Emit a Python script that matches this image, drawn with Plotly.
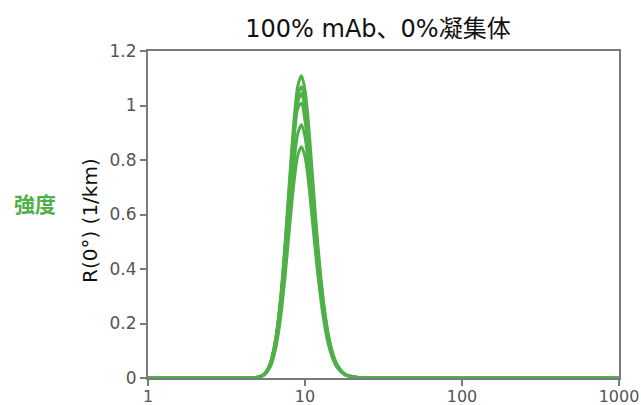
import plotly.graph_objects as go

# Data (x: size on log axis, y: R(0°) in 1/km)
x_vals = [1, 2, 3, 4, 4.5, 5, 5.5, 6, 6.5, 7, 7.5, 8, 8.5, 9, 9.5, 10, 10.5, 11,
          12, 13, 14, 15, 16, 18, 20, 25, 40, 100, 1000]

curve_a = [0, 0, 0, 0, 0, 0.003, 0.014, 0.053, 0.143, 0.296, 0.508, 0.740, 0.941, 1.072, 1.109, 1.057, 0.941, 0.790,
           0.507, 0.300, 0.168, 0.092, 0.050, 0.014, 0.006, 0, 0, 0, 0]
curve_b = [0, 0, 0, 0, 0, 0.003, 0.014, 0.051, 0.140, 0.290, 0.496, 0.720, 0.912, 1.040, 1.069, 1.012, 0.900, 0.755,
           0.485, 0.287, 0.161, 0.088, 0.048, 0.014, 0.005, 0, 0, 0, 0]
curve_c = [0, 0, 0, 0, 0, 0.003, 0.014, 0.051, 0.138, 0.284, 0.486, 0.705, 0.893, 1.015, 1.044, 0.990, 0.880, 0.738,
           0.474, 0.280, 0.157, 0.086, 0.047, 0.014, 0.005, 0, 0, 0, 0]
curve_d = [0, 0, 0, 0, 0, 0.003, 0.014, 0.050, 0.135, 0.279, 0.475, 0.688, 0.870, 0.990, 1.008, 0.945, 0.838, 0.705,
           0.455, 0.270, 0.151, 0.083, 0.045, 0.013, 0.005, 0, 0, 0, 0]
curve_e = [0, 0, 0, 0, 0, 0.003, 0.012, 0.045, 0.120, 0.248, 0.426, 0.620, 0.789, 0.898, 0.929, 0.885, 0.789, 0.662,
           0.425, 0.251, 0.140, 0.077, 0.042, 0.012, 0.005, 0, 0, 0, 0]
curve_f = [0, 0, 0, 0, 0, 0.003, 0.011, 0.040, 0.108, 0.224, 0.385, 0.562, 0.716, 0.818, 0.849, 0.812, 0.726, 0.611,
           0.393, 0.233, 0.130, 0.072, 0.039, 0.011, 0.004, 0, 0, 0, 0]

series = [curve_f, curve_e, curve_d, curve_c, curve_b, curve_a]

x_tick_vals = [1, 10, 100, 1000]
x_tick_text = ["1", "10", "100", "1000"]
y_tick_vals = [0, 0.2, 0.4, 0.6, 0.8, 1.0, 1.2]
y_tick_text = ["0", "0.2", "0.4", "0.6", "0.8", "1", "1.2"]

title_text = "100% mAb、0%凝集体"
y_title = "R(0°) (1/km)"
side_label = "強度"

GREEN = "#50b048"
AXIS = "#7a7a7a"
FONT = "DejaVu Sans, Noto Sans CJK JP"

L, R, T, B = 148, 22, 51, 27
W, H = 641, 405
PW, PH = W - L - R, H - T - B

fig = go.Figure()
for ys in series:
    fig.add_trace(go.Scatter(
        x=x_vals, y=ys, mode="lines",
        line=dict(color=GREEN, width=3, shape="spline", smoothing=0.8),
        showlegend=False, hoverinfo="skip",
    ))

fig.update_layout(
    width=W, height=H,
    margin=dict(l=L, r=R, t=T, b=B, autoexpand=False),
    paper_bgcolor="white", plot_bgcolor="white",
    font=dict(family=FONT, color="#555555", size=16),
    title=dict(text=title_text, x=378 / W, xanchor="center",
               y=1 - 29 / H, yanchor="middle",
               font=dict(family=FONT, size=24, color="#111111")),
    showlegend=False,
)

fig.update_xaxes(
    type="log", range=[0, 3], automargin=False,
    tickvals=x_tick_vals, ticktext=x_tick_text,
    showline=True, linecolor=AXIS, linewidth=2, mirror=True,
    ticks="outside", ticklen=6, tickcolor=AXIS, tickwidth=1.5,
    ticklabelstandoff=-3,
    showgrid=False, zeroline=False,
    tickfont=dict(family=FONT, size=16, color="#555555"),
)
fig.update_yaxes(
    range=[0, 1.2], automargin=False,
    tickvals=y_tick_vals, ticktext=y_tick_text,
    showline=True, linecolor=AXIS, linewidth=2, mirror=True,
    ticks="outside", ticklen=6, tickcolor=AXIS, tickwidth=1.5,
    showgrid=False, zeroline=False,
    tickfont=dict(family=FONT, size=17, color="#555555"),
)

fig.add_annotation(
    text=y_title, xref="paper", yref="paper",
    x=-(L - 90) / PW, y=(378 - 221) / PH,
    xanchor="center", yanchor="middle", showarrow=False, textangle=-90,
    font=dict(family=FONT, size=20, color="#111111"),
)

fig.add_annotation(
    text="<b>" + side_label + "</b>", xref="paper", yref="paper",
    x=-(L - 35) / PW, y=(378 - 203) / PH,
    xanchor="center", yanchor="middle", showarrow=False,
    font=dict(family="Noto Sans CJK JP", size=21, color=GREEN),
)

fig.write_html("out.html")
